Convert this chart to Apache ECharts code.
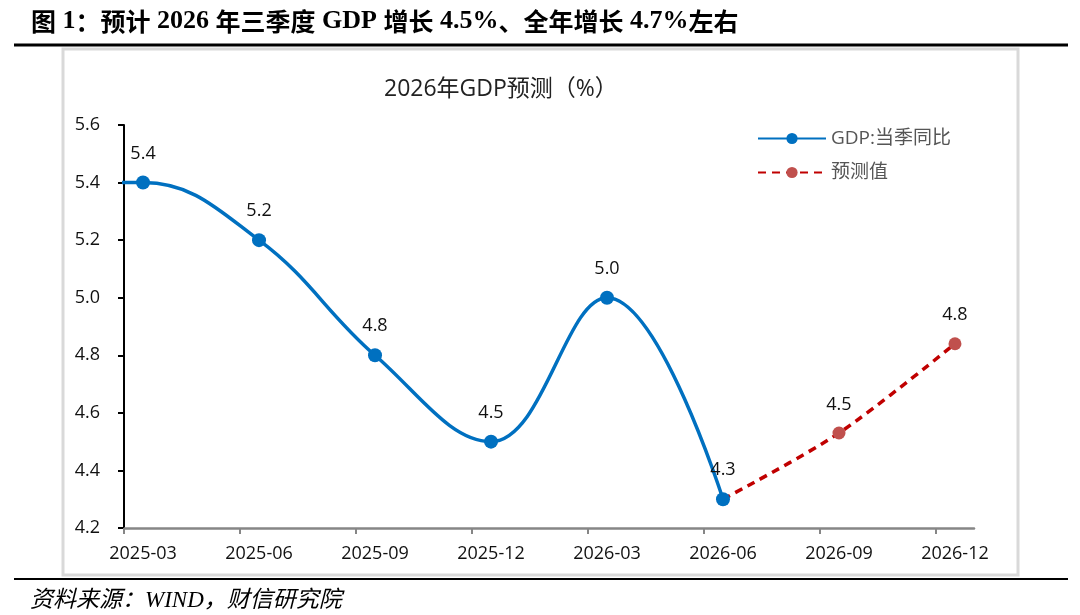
<!DOCTYPE html>
<html>
<head>
<meta charset="utf-8">
<script src="https://cdn.jsdelivr.net/npm/echarts@6/dist/echarts.min.js"></script>
<style>
html, body { margin: 0; padding: 0; background: #fff; }
#Chart { width: 1080px; height: 615px; }
</style>
</head>
<body>
<div id="Chart"></div>
<script>
var categories = ['2025-03', '2025-06', '2025-09', '2025-12', '2026-03', '2026-06', '2026-09', '2026-12'];
// quarter before the first category, only its line segment shows at the left edge
var prevQuarter = 5.4;
var actualValues = [5.4, 5.2, 4.8, 4.5, 5.0, 4.3];
var forecastValues = [4.3, 4.53, 4.84];
var yTicks = [4.2, 4.4, 4.6, 4.8, 5.0, 5.2, 5.4, 5.6];

var figureTitle = '图 1：预计 2026 年三季度 GDP 增长 4.5%、全年增长 4.7%左右';
var chartTitle = '2026年GDP预测（%）';
var sourceText = '资料来源：WIND，财信研究院';

var Chart = echarts.init(document.getElementById('Chart'));

var serif = '"Liberation Serif", "Noto Sans CJK SC"';
var sans = '"Open Sans", "Noto Sans CJK SC"';
var tickShift = 0.164; // ticks sit a little left of each point, like the excel date axis

// latin runs get the times-like font, cjk runs the cjk font
function mixRuns(s) {
    return s.replace(/[\u0000-\u00ff]+/g, function (m) { return '{l|' + m + '}'; })
            .replace(/(^|\})([^{}]+)(?=\{|$)/g, function (m, a, b) { return a + '{c|' + b + '}'; });
}

var actualData = [{ value: [-1, prevQuarter], symbol: 'none', label: { show: false } }];
actualValues.forEach(function (v, i) { actualData.push([i, v]); });

var forecastStart = actualValues.length - 1;
var forecastData = forecastValues.map(function (v, i) {
    if (i === 0) return { value: [forecastStart, v], symbol: 'none', label: { show: false } };
    return [forecastStart + i, v];
});

var tickValues = categories.map(function (c, i) { return i - tickShift; });
var labelValues = categories.map(function (c, i) { return i; });

var option = {
    animation: false,
    title: [
        {
            text: mixRuns(figureTitle),
            left: 26, top: 3,
            textStyle: {
                rich: {
                    l: { fontFamily: '"Liberation Serif"', fontWeight: 'bold', fontSize: 26, color: '#000' },
                    c: { fontFamily: '"Noto Sans CJK SC"', fontWeight: 'bold', fontSize: 25, color: '#000' }
                }
            }
        },
        {
            text: chartTitle,
            left: 379, top: 73,
            textStyle: { fontFamily: sans, fontWeight: 'normal', fontSize: 23, color: '#222' }
        },
        {
            text: sourceText,
            left: 25, top: 584,
            textStyle: { fontFamily: serif, fontStyle: 'italic', fontWeight: 'normal', fontSize: 23, color: '#000' }
        }
    ],
    graphic: [
        { type: 'rect', shape: { x: 63, y: 49, width: 955, height: 526 },
          style: { fill: 'none', stroke: '#d9d9d9', lineWidth: 3 }, z: -1 },
        { type: 'line', shape: { x1: 14, y1: 45, x2: 1068, y2: 45 },
          style: { stroke: '#000', lineWidth: 3 } },
        { type: 'line', shape: { x1: 14, y1: 579, x2: 1068, y2: 579 },
          style: { stroke: '#000', lineWidth: 2 } }
    ],
    legend: {
        orient: 'vertical',
        left: 752, top: 124,
        itemWidth: 68, itemHeight: 14, itemGap: 15,
        textStyle: { fontFamily: sans, fontSize: 19, color: '#555' },
        data: ['GDP:当季同比', '预测值']
    },
    grid: { left: 124, top: 125, right: 106, bottom: 87 },
    xAxis: {
        type: 'value',
        min: -tickShift,
        max: 7.164,
        axisLine: { onZero: false, lineStyle: { color: '#868686', width: 2.5 } },
        axisTick: { show: true, length: 6, customValues: tickValues,
                    lineStyle: { color: '#868686', width: 2 } },
        axisLabel: {
            customValues: labelValues,
            margin: 17,
            fontFamily: sans, fontSize: 18, color: '#111',
            formatter: function (v) { return categories[Math.round(v)] || ''; }
        },
        splitLine: { show: false }
    },
    yAxis: {
        type: 'value',
        min: yTicks[0],
        max: yTicks[yTicks.length - 1],
        interval: 0.2,
        axisLine: { show: true, onZero: false, lineStyle: { color: '#000', width: 2 } },
        axisTick: { show: true, length: 6, lineStyle: { color: '#000', width: 2 } },
        axisLabel: {
            margin: 24,
            fontFamily: sans, fontSize: 18, color: '#111',
            formatter: function (v) { return v.toFixed(1); }
        },
        splitLine: { show: false }
    },
    series: [
        {
            name: 'GDP:当季同比',
            type: 'line',
            smooth: 0.4,
            z: 3,
            data: actualData,
            symbol: 'circle',
            symbolSize: 14,
            lineStyle: { color: '#0070C0', width: 3.5 },
            itemStyle: { color: '#0070C0' },
            label: {
                show: true, position: 'top', distance: 13,
                fontFamily: sans, fontSize: 18, color: '#111',
                formatter: function (p) { return p.value[1].toFixed(1); }
            }
        },
        {
            name: '预测值',
            type: 'line',
            smooth: 0.3,
            z: 2,
            data: forecastData,
            symbol: 'circle',
            symbolSize: 13,
            lineStyle: { color: '#C00000', width: 3.5, type: [8, 6] },
            itemStyle: { color: '#C0504D' },
            label: {
                show: true, position: 'top', distance: 13,
                fontFamily: sans, fontSize: 18, color: '#111',
                formatter: function (p) { return p.value[1].toFixed(1); }
            }
        }
    ]
};

Chart.setOption(option);

window.addEventListener('resize', function () {
    Chart.resize();
});
</script>
</body>
</html>
